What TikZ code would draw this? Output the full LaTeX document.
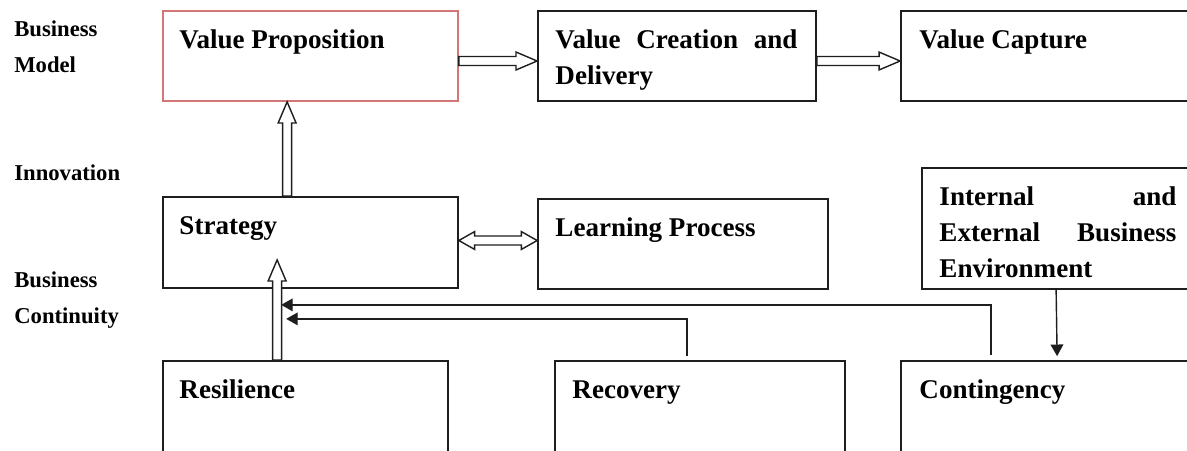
\documentclass[tikz,border=0pt]{standalone}
\usepackage{fontspec}
\setmainfont{Liberation Serif}
\usetikzlibrary{calc,fit,arrows.meta}

\definecolor{vpred}{RGB}{212,118,118}
\definecolor{ink}{RGB}{30,30,30}

\hyphenpenalty=10000

\tikzset{
  box/.style={draw=ink,line width=1pt,inner sep=0pt},
  boxtext/.style={anchor=north west,inner sep=0pt,align=justify,
    font=\bfseries\fontsize{15.4}{20.5}\selectfont},
  sidetext/.style={anchor=north west,inner sep=0pt,align=left,
    font=\bfseries\fontsize{12.9}{20.5}\selectfont},
  hollow/.style={draw=ink,line width=0.8pt,fill=white,line join=miter},
  link/.style={draw=ink,line width=0.8pt,-{Triangle[length=6.6pt,width=7.2pt]}}
}

% open block arrow from #1 to #2
\newcommand{\blockarrow}[2]{%
  \coordinate (bh) at ($(#2)!\arrhead!(#1)$);
  \draw[hollow] ($(#1)!\arrshaft!90:(#2)$) -- ($(bh)!\arrshaft!-90:(#1)$)
    -- ($(bh)!\arrwing!-90:(#1)$) -- (#2) -- ($(bh)!\arrwing!90:(#1)$)
    -- ($(bh)!\arrshaft!90:(#1)$) -- ($(#1)!\arrshaft!-90:(#2)$) -- cycle;}

% open block arrow with a head at each end
\newcommand{\twinarrow}[2]{%
  \coordinate (ha) at ($(#1)!\twinhead!(#2)$);
  \coordinate (hb) at ($(#2)!\twinhead!(#1)$);
  \draw[hollow] (#1) -- ($(ha)!\arrwing!90:(#2)$) -- ($(ha)!\arrshaft!90:(#2)$)
    -- ($(hb)!\arrshaft!-90:(#1)$) -- ($(hb)!\arrwing!-90:(#1)$) -- (#2)
    -- ($(hb)!\arrwing!90:(#1)$) -- ($(hb)!\arrshaft!90:(#1)$)
    -- ($(ha)!\arrshaft!-90:(#2)$) -- ($(ha)!\arrwing!-90:(#2)$) -- cycle;}

\begin{document}
\begin{tikzpicture}[x=0.02cm,y=-0.02cm]
  \def\arrhead{12pt}  % head length
  \def\twinhead{9pt}
  \def\arrshaft{2.55pt} % half shaft width
  \def\arrwing{5.1pt}   % half head width
  \useasboundingbox (0,0) rectangle (1187,450);
  \clip (0,0) rectangle (1187,450);

  % row labels
  \node[sidetext] (bm) at (14,10.8) {\strut Business\\Model};
  \node[sidetext] (inno) at (14,154.8) {\strut Innovation};
  \node[sidetext] (bc) at (14,261.8) {\strut Business\\Continuity};

  % business model row
  \node[box,draw=vpred,fit={(163,11) (458,101)}] (vp) {};
  \node[box,fit={(538,11) (816,101)}] (vcd) {};
  \node[box,fit={(901,11) (1200,101)}] (vc) {};
  \node[boxtext,text width=5.18cm] at ($(vp.north west)+(17,12.8)$) {\strut Value Proposition};
  \node[boxtext,text width=4.84cm] at ($(vcd.north west)+(18,12.8)$) {\strut Value Creation and Delivery};
  \node[boxtext,text width=5cm] at ($(vc.north west)+(19,12.8)$) {\strut Value Capture};

  % innovation row
  \node[box,fit={(163,197) (458,288)}] (strat) {};
  \node[box,fit={(538,199) (828,289)}] (learn) {};
  \node[box,fit={(922,168) (1200,289)}] (env) {};
  \node[boxtext,text width=5.18cm] at ($(strat.north west)+(17,12.8)$) {\strut Strategy};
  \node[boxtext,text width=5.08cm] at ($(learn.north west)+(18,12.8)$) {\strut Learning Process};
  \node[boxtext,text width=4.74cm] at ($(env.north west)+(18,12.8)$) {\strut Internal and External Business Environment};

  % continuity row
  \node[box,fit={(163,361) (448,470)}] (res) {};
  \node[box,fit={(555,361) (845,470)}] (rec) {};
  \node[box,fit={(901,361) (1200,470)}] (cont) {};
  \node[boxtext,text width=5cm] at ($(res.north west)+(17,12.8)$) {\strut Resilience};
  \node[boxtext,text width=5.08cm] at ($(rec.north west)+(18,12.8)$) {\strut Recovery};
  \node[boxtext,text width=5cm] at ($(cont.north west)+(19,12.8)$) {\strut Contingency};

  % block arrows
  \coordinate (a1) at ($(vp.east)+(0,5)$);
  \coordinate (a2) at ($(vcd.east)+(0,5)$);
  \blockarrow{a1}{vcd.west |- a1}
  \blockarrow{a2}{vc.west |- a2}
  \coordinate (s1) at ($(strat.north west)+(125,0)$);
  \blockarrow{s1}{vp.south -| s1}
  \coordinate (s2) at ($(strat.east)+(0,-2)$);
  \twinarrow{s2}{learn.west |- s2}
  \coordinate (r1) at ($(res.north west)+(115,0)$);
  \coordinate (r2) at ($(strat.south west)+(115,-29)$);
  \blockarrow{r1}{r2}

  % feedback lines into strategy
  \coordinate (k1) at ($(strat.south west)+(119,16)$);
  \coordinate (k2) at ($(strat.south west)+(124,30)$);
  \draw[link] ($(cont.north west)+(91,-5)$) |- (k1);
  \draw[link] ($(rec.north west)+(133,-4)$) |- (k2);
  \draw[link] ($(env.south west)+(135,0)$) -- ($(cont.north west)+(157,-4)$);
\end{tikzpicture}
\end{document}
